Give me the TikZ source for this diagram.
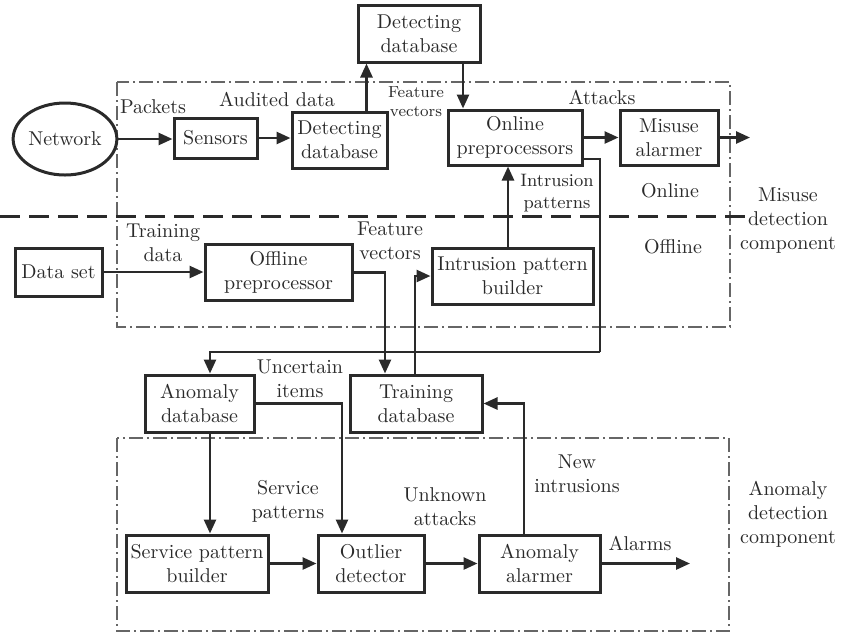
\documentclass[tikz,border=0pt]{standalone}
\usetikzlibrary{arrows.meta,shapes.geometric}
\definecolor{ink}{HTML}{2A2A2A}
\definecolor{frame}{HTML}{666666}
\begin{document}
\begin{tikzpicture}[x=0.5pt,y=-0.5pt,
  box/.style={draw=ink,line width=1.5pt,rectangle,align=center,inner sep=1pt,text=ink},
  lbl/.style={align=center,inner sep=0pt,text=ink},
  arr/.style={draw=ink,line width=1.3pt,-{Triangle[length=7pt,width=6pt]}},
  wire/.style={draw=ink,line width=1.3pt},
  region/.style={draw=frame,line width=0.7pt,dash pattern=on 7pt off 2pt on 1pt off 2pt},
  split/.style={draw=ink,line width=1.5pt,dash pattern=on 10pt off 4.5pt}]
\useasboundingbox (0,0) rectangle (844,634);

% component frames and the online/offline split
\draw[region] (117,82) rectangle (730,327);
\draw[region] (117,438) rectangle (729,631);
\draw[split] (0,216) -- (745,216);

% misuse detection part
\node[ellipse,draw=ink,line width=1.5pt,minimum width=44pt,minimum height=36pt,inner sep=0pt,text=ink] (net) at (65,139) {Network};
\node[box,minimum width=41.5pt,minimum height=20pt] (sens) at (215.5,138) {Sensors};
\node[box,minimum width=47.5pt,minimum height=28pt] (ddb) at (339.5,140) {Detecting\\database};
\node[box,minimum width=61pt,minimum height=28.5pt] (tdb) at (419,33.5) {Detecting\\database};
\node[box,minimum width=67pt,minimum height=27.5pt] (onl) at (515,137.5) {Online\\preprocessors};
\node[box,minimum width=49pt,minimum height=27.5pt] (mis) at (669,137.5) {Misuse\\alarmer};
\node[box,minimum width=80.5pt,minimum height=28pt] (ipb) at (512.5,276) {Intrusion pattern\\builder};
\node[box,minimum width=43.5pt,minimum height=24pt] (dset) at (58.5,272) {Data set};
\node[box,minimum width=73.5pt,minimum height=28pt] (off) at (278.5,272.5) {Offline\\preprocessor};

% shared databases
\node[box,minimum width=54.5pt,minimum height=28.5pt] (adb) at (199.5,403.5) {Anomaly\\database};
\node[box,minimum width=66pt,minimum height=28.5pt] (trdb) at (416,403.5) {Training\\database};

% anomaly detection part
\node[box,minimum width=71pt,minimum height=28.5pt] (spb) at (197,563.5) {Service pattern\\builder};
\node[box,minimum width=53pt,minimum height=28.5pt] (out) at (371,563.5) {Outlier\\detector};
\node[box,minimum width=60.5pt,minimum height=28.5pt] (aal) at (539.5,563.5) {Anomaly\\alarmer};

\coordinate (misout) at (750,137.5);
\coordinate (alout) at (690,563.5);
\coordinate (loop) at (600,352);

% connectors
\draw[arr] (net.east) -- (sens.west |- net.east);
\draw[arr] (sens.east) -- (ddb.west |- sens.east);
\draw[arr] ([xshift=13.5pt]ddb.north) -- ([xshift=13.5pt]ddb.north |- tdb.south);
\draw[arr] ([xshift=22pt]tdb.south) -- ([xshift=22pt]tdb.south |- onl.north);
\draw[arr] (onl.east) -- (mis.west);
\draw[arr] (mis.east) -- (misout);
\draw[arr] ([xshift=-2.25pt]ipb.north) -- ([xshift=-2.25pt]ipb.north |- onl.south);
\draw[wire] ([yshift=-10.75pt]onl.east) -| (loop);
\draw[arr] (loop) -| ([xshift=5.25pt]adb.north);
\draw[arr] (dset.east) -- (off.west |- dset.east);
\draw[arr] (off.east) -| ([xshift=-15.5pt]trdb.north);
\draw[arr] ([xshift=-0.5pt]trdb.north) |- (ipb.west);
\draw[arr] (adb.east) -| ([xshift=-14.5pt]out.north);
\draw[arr] ([xshift=5.25pt]adb.south) -- ([xshift=5.25pt]adb.south |- spb.north);
\draw[arr] (spb.east) -- (out.west);
\draw[arr] (out.east) -- (aal.west);
\draw[arr] (aal.east) -- (alout);
\draw[arr] ([xshift=-7.75pt]aal.north) |- (trdb.east);

% labels
\node[lbl] (lpk) at (153,107) {Packets};
\node[lbl] (lad) at (277,99) {Audited data};
\node[lbl,font=\footnotesize] (lfv1) at (416,102) {Feature\\vectors};
\node[lbl] (lat) at (602,97) {Attacks};
\node[lbl,font=\small] (lip) at (557,193) {Intrusion\\patterns};
\node[lbl] (lon) at (670,191) {Online};
\node[lbl] (lof) at (673,247) {Offline};
\node[lbl] (lmdc) at (788,221) {Misuse\\detection\\component};
\node[lbl] (ltd) at (163,243) {Training\\data};
\node[lbl] (lfv2) at (390,241) {Feature\\vectors};
\node[lbl] (lui) at (300,379) {Uncertain\\items};
\node[lbl] (lsp) at (288,501) {Service\\patterns};
\node[lbl] (lua) at (445,507) {Unknown\\attacks};
\node[lbl] (lni) at (577,474) {New\\intrusions};
\node[lbl] (lal) at (640,543) {Alarms};
\node[lbl] (ladc) at (788,514) {Anomaly\\detection\\component};
\end{tikzpicture}
\end{document}
